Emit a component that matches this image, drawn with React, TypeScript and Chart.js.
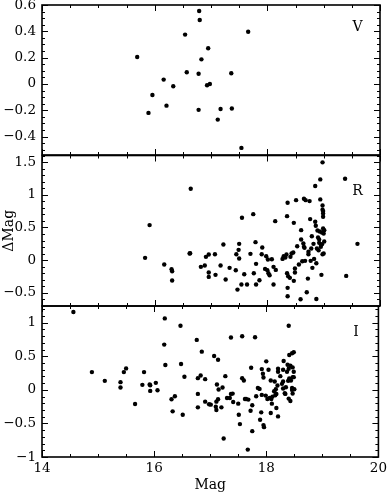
import React, { useEffect, useRef } from "react";
import { Chart, registerables } from "chart.js";

Chart.register(...registerables);

// ---------------- data ----------------
const X_TICKS = [14, 16, 18, 20];
const V_TICKS = [-0.4, -0.2, 0, 0.2, 0.4, 0.6];
const R_TICKS = [-0.5, 0, 0.5, 1, 1.5];
const I_TICKS = [-1, -0.5, 0, 0.5, 1];
const PANEL_LABELS = ["V", "R", "I"];
const X_TITLE = "Mag";
const Y_TITLE = "ΔMag";

const V_MAG = [15.69, 15.89, 15.96, 16.16, 16.21, 16.33, 16.54, 16.57, 16.78, 16.78, 16.79, 16.8, 16.83, 16.95, 16.93, 16.98, 17.12, 17.17, 17.36, 17.37, 17.54, 17.66];
const V_DELTA = [0.205, -0.22, -0.084, 0.033, -0.165, -0.018, 0.375, 0.089, -0.197, 0.078, 0.554, 0.486, 0.187, 0.271, -0.01, 0.0, -0.271, -0.19, 0.081, -0.187, -0.486, 0.397];

const R_MAG = [15.83, 15.91, 16.17, 16.3, 16.31, 16.31, 16.62, 16.63, 16.64, 16.82, 16.89, 16.91, 16.96, 16.96, 16.96, 17.07, 17.08, 17.17, 17.22, 17.26, 17.33, 17.44, 17.45, 17.47, 17.49, 17.5, 17.5, 17.54, 17.55, 17.59, 17.64, 17.7, 17.75, 17.76, 17.79, 17.8, 17.8, 17.86, 17.9, 17.91, 17.96, 17.98, 18.01, 18.0, 18.02, 18.04, 18.08, 18.11, 18.11, 18.14, 18.15, 18.27, 18.29, 18.32, 18.34, 18.36, 18.35, 18.35, 18.36, 18.36, 18.37, 18.4, 18.41, 18.43, 18.47, 18.46, 18.47, 18.49, 18.49, 18.51, 18.53, 18.56, 18.59, 18.6, 18.6, 18.62, 18.64, 18.65, 18.65, 18.66, 18.68, 18.67, 18.7, 18.72, 18.73, 18.73, 18.75, 18.76, 18.77, 18.78, 18.79, 18.8, 18.82, 18.83, 18.85, 18.85, 18.86, 18.87, 18.87, 18.88, 18.89, 18.9, 18.91, 18.92, 18.92, 18.93, 18.94, 18.94, 18.95, 18.95, 18.96, 18.97, 18.97, 18.98, 18.98, 18.98, 18.98, 18.99, 18.99, 18.99, 18.99, 19.0, 19.01, 19.0, 19.01, 19.38, 19.4, 19.6];
const R_DELTA = [0.036, 0.536, -0.066, -0.138, -0.168, -0.311, 0.102, 0.107, 1.092, -0.102, -0.082, 0.051, 0.087, -0.189, -0.255, 0.092, -0.224, -0.082, 0.24, -0.296, -0.117, -0.153, 0.092, -0.449, 0.158, 0.25, 0.026, -0.372, 0.648, -0.214, -0.372, 0.097, 0.704, -0.199, 0.276, -0.056, -0.372, -0.306, 0.092, 0.194, -0.133, 0.061, 0.01, -0.153, -0.199, -0.23, 0.015, -0.372, -0.102, 0.597, -0.148, 0.02, 0.061, 0.041, 0.087, 0.878, 0.673, -0.199, -0.551, -0.423, -0.245, -0.27, 0.051, 0.102, 0.571, 0.117, -0.316, -0.128, -0.189, 0.918, 0.214, -0.066, -0.597, 0.316, 0.459, -0.015, 0.255, 0.939, 0.204, 0.189, 0.918, -0.01, -0.49, -0.281, 0.092, 0.128, 0.903, 0.628, -0.01, 0.179, 0.367, -0.117, 0.25, 0.02, 1.133, 0.587, 0.526, -0.046, -0.592, 0.179, 0.454, 0.347, 0.153, 0.316, 0.265, 0.439, 1.235, 0.929, 0.204, 0.235, -0.224, 0.245, 0.423, 0.77, 0.092, 1.495, 0.837, 0.75, 0.714, 0.663, 0.485, 0.408, 0.286, 0.102, 0.459, 1.245, -0.24, 0.25];

const I_MAG = [14.56, 14.89, 15.12, 15.4, 15.4, 15.46, 15.5, 15.66, 15.79, 15.82, 15.92, 15.93, 15.93, 16.03, 16.06, 16.19, 16.18, 16.2, 16.31, 16.33, 16.37, 16.47, 16.48, 16.51, 16.54, 16.76, 16.78, 16.78, 16.78, 16.83, 16.85, 16.91, 16.91, 16.98, 17.01, 17.07, 17.1, 17.11, 17.11, 17.12, 17.14, 17.15, 17.14, 17.2, 17.22, 17.24, 17.27, 17.3, 17.35, 17.37, 17.37, 17.4, 17.41, 17.5, 17.51, 17.53, 17.57, 17.57, 17.6, 17.62, 17.64, 17.68, 17.67, 17.72, 17.73, 17.75, 17.75, 17.8, 17.82, 17.85, 17.88, 17.89, 17.91, 17.92, 17.92, 17.94, 17.95, 17.95, 17.96, 17.99, 18.0, 18.02, 18.04, 18.06, 18.08, 18.08, 18.09, 18.1, 18.11, 18.14, 18.15, 18.16, 18.17, 18.18, 18.18, 18.2, 18.21, 18.21, 18.21, 18.25, 18.28, 18.3, 18.3, 18.3, 18.31, 18.33, 18.34, 18.35, 18.37, 18.38, 18.39, 18.4, 18.4, 18.4, 18.41, 18.41, 18.43, 18.43, 18.44, 18.46, 18.46, 18.46, 18.47, 18.47, 18.47, 18.49, 18.49, 18.49, 18.5];
const I_DELTA = [1.16, 0.265, 0.135, 0.115, 0.035, 0.265, 0.32, -0.21, 0.075, 0.265, 0.08, 0.07, -0.015, 0.105, -0.005, 1.065, 0.675, 0.37, -0.14, -0.32, -0.095, 0.955, 0.385, -0.37, 0.195, 0.745, 0.175, -0.06, -0.26, 0.215, 0.57, 0.16, -0.175, -0.215, -0.22, 0.505, -0.25, -0.175, -0.3, 0.08, 0.45, 0.005, -0.14, -0.26, 0.035, -0.725, 0.205, -0.12, -0.12, 0.78, -0.06, -0.055, -0.18, -0.205, -0.37, -0.51, 0.175, 0.8, 0.14, -0.135, -0.135, -0.145, -0.89, -0.31, 0.33, -0.23, -0.615, 0.785, -0.095, 0.03, 0.015, -0.445, -0.335, 0.31, -0.075, 0.24, 0.185, -0.525, -0.555, -0.085, 0.425, -0.135, 0.3, -0.12, 0.14, -0.345, -0.135, -0.205, -0.1, -0.02, 0.125, -0.08, 0.01, -0.06, -0.27, 0.065, 0.315, 0.27, -0.395, 0.205, 0.09, 0.125, 0.3, 0.02, 0.43, -0.05, -0.06, 0.04, 0.27, 0.375, 0.135, 0.315, -0.13, 0.955, 0.52, 0.17, -0.165, 0.36, 0.14, 0.03, 0.0, 0.545, 0.19, -0.055, 0.335, 0.56, 0.27, 0.19, 0.01];

// ---------------- layout / style ----------------
const OFF = 20; // canvas is shifted up by this many px
const CH = 495 + 2 * OFF;
const FONT = "'DejaVu Serif', serif";

type PanelCfg = {
  mag: number[];
  delta: number[];
  ticks: number[];
  min: number;
  max: number;
  minor: number;
  top: number;
  bottom: number;
  letter: string;
  letterY: number;
  showX: boolean;
  yTitle: boolean;
};

const PANELS: PanelCfg[] = [
  { mag: V_MAG, delta: V_DELTA, ticks: V_TICKS, min: -0.54, max: 0.6, minor: 0.05, top: 5, bottom: 155, letter: PANEL_LABELS[0], letterY: 0.43, showX: false, yTitle: false },
  { mag: R_MAG, delta: R_DELTA, ticks: R_TICKS, min: -0.7, max: 1.6, minor: 0.1, top: 155.5, bottom: 306, letter: PANEL_LABELS[1], letterY: 1.05, showX: false, yTitle: true },
  { mag: I_MAG, delta: I_DELTA, ticks: I_TICKS, min: -1, max: 1.25, minor: 0.1, top: 306, bottom: 457, letter: PANEL_LABELS[2], letterY: 0.85, showX: true, yTitle: false },
];

const fmt = (v: number) => {
  const a = Math.round(Math.abs(v) * 100) / 100;
  return (v < -1e-9 ? "\u2212" : "") + String(a);
};

const framePlugin = {
  id: "frame",
  afterDatasetsDraw(chart: any, _args: any, opts: any) {
    const { ctx, chartArea } = chart;
    const { left, right, top, bottom } = chartArea;
    const xs = chart.scales.x;
    const ys = chart.scales.y;
    ctx.save();
    ctx.strokeStyle = "#000";
    ctx.lineWidth = 1;
    ctx.beginPath();
    for (let k = 0; 14 + k * 0.5 <= 20 + 1e-9; k++) {
      const m = 14 + k * 0.5;
      const px = Math.round(xs.getPixelForValue(m)) + 0.5;
      const major = X_TICKS.some((t) => Math.abs(t - m) < 1e-6);
      const len = major ? 6 : 3;
      ctx.moveTo(px, bottom);
      ctx.lineTo(px, bottom - len);
      ctx.moveTo(px, top);
      ctx.lineTo(px, top + len);
    }
    const step = opts.minor;
    for (let k = Math.ceil(ys.min / step - 1e-6); k * step <= ys.max + 1e-9; k++) {
      const v = k * step;
      const py = Math.round(ys.getPixelForValue(v)) + 0.5;
      const major = (opts.ticks as number[]).some((t) => Math.abs(t - v) < 1e-6);
      const len = major ? 6 : 3;
      ctx.moveTo(left, py);
      ctx.lineTo(left + len, py);
      ctx.moveTo(right, py);
      ctx.lineTo(right - len, py);
    }
    ctx.stroke();
    ctx.lineWidth = 1.6;
    ctx.strokeRect(left, top, right - left, bottom - top);
    ctx.fillStyle = "#000";
    ctx.font = "14px " + FONT;
    ctx.textAlign = "center";
    ctx.textBaseline = "middle";
    ctx.fillText(opts.letter, xs.getPixelForValue(19.6), ys.getPixelForValue(opts.letterY));
    ctx.restore();
  },
};

function makeChart(canvas: HTMLCanvasElement, p: PanelCfg) {
  const points = p.mag.map((m, i) => ({ x: m, y: p.delta[i] }));
  const padTop = p.top + OFF;
  const belowArea = CH - (p.bottom + OFF);
  return new Chart(canvas, {
    type: "scatter",
    data: {
      datasets: [
        {
          data: points,
          backgroundColor: "#000",
          borderWidth: 0,
          pointRadius: 2.2,
          pointHoverRadius: 2.2,
        },
      ],
    },
    options: {
      animation: false,
      responsive: false,
      events: [],
      layout: {
        padding: { top: padTop, bottom: p.showX ? 0 : belowArea, left: 0, right: 10 },
      },
      plugins: {
        legend: { display: false },
        tooltip: { enabled: false },
        frame: { minor: p.minor, ticks: p.ticks, letter: p.letter, letterY: p.letterY },
      } as any,
      scales: {
        x: {
          type: "linear",
          min: 14,
          max: 20,
          display: p.showX,
          grid: { display: false, drawTicks: false },
          border: { display: false },
          afterBuildTicks: (s: any) => {
            s.ticks = X_TICKS.map((value) => ({ value }));
          },
          afterFit: (s: any) => {
            s.height = p.showX ? belowArea : 0;
          },
          ticks: {
            color: "#000",
            padding: 3,
            maxRotation: 0,
            autoSkip: false,
            font: { family: FONT, size: 13.5 },
            callback: (v: any) => fmt(Number(v)),
          },
          title: {
            display: true,
            text: X_TITLE,
            color: "#000",
            font: { family: FONT, size: 14 },
            padding: { top: 0, bottom: 21.6 },
          },
        },
        y: {
          type: "linear",
          min: p.min,
          max: p.max,
          grid: { display: false, drawTicks: false },
          border: { display: false },
          afterBuildTicks: (s: any) => {
            s.ticks = p.ticks.map((value) => ({ value }));
          },
          afterFit: (s: any) => {
            s.width = 42;
          },
          ticks: {
            color: "#000",
            padding: 6,
            autoSkip: false,
            font: { family: FONT, size: 13.5 },
            callback: (v: any) => fmt(Number(v)),
          },
          title: {
            display: p.yTitle,
            text: Y_TITLE,
            color: "#000",
            font: { family: FONT, size: 14 },
            padding: { top: 0.6, bottom: 0 },
          },
        },
      },
    },
    plugins: [framePlugin as any],
  });
}

export default function App() {
  const r0 = useRef<HTMLCanvasElement>(null);
  const r1 = useRef<HTMLCanvasElement>(null);
  const r2 = useRef<HTMLCanvasElement>(null);

  useEffect(() => {
    const refs = [r0, r1, r2];
    const charts = PANELS.map((p, i) => makeChart(refs[i].current as HTMLCanvasElement, p));
    return () => charts.forEach((c) => c.destroy());
  }, []);

  const cstyle: React.CSSProperties = { position: "absolute", left: 0, top: -OFF, width: 390, height: CH };
  return (
    <div style={{ position: "fixed", left: 0, top: 0, width: 390, height: 495, overflow: "hidden", background: "#fff" }}>
      <canvas ref={r0} width={390} height={CH} style={cstyle} />
      <canvas ref={r1} width={390} height={CH} style={cstyle} />
      <canvas ref={r2} width={390} height={CH} style={cstyle} />
    </div>
  );
}
